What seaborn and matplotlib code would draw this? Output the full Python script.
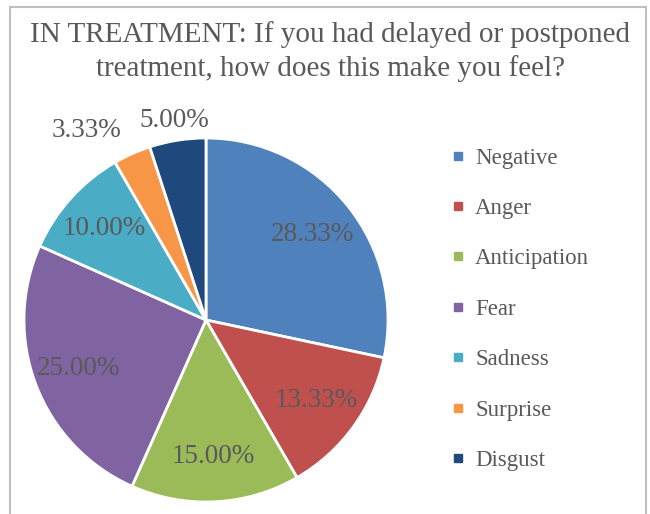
import numpy as np
import matplotlib
matplotlib.use("Agg")
import matplotlib.pyplot as plt
from matplotlib.patches import Rectangle
from matplotlib.lines import Line2D
import seaborn as sns

categories = ["Negative", "Anger", "Anticipation", "Fear", "Sadness", "Surprise", "Disgust"]
values = [28.33, 13.33, 15.00, 25.00, 10.00, 3.33, 5.00]
colors = ["#4F81BD", "#C0504D", "#9BBB59", "#8064A2", "#4BACC6", "#F79646", "#1F497D"]
title = "IN TREATMENT: If you had delayed or postponed\ntreatment, how does this make you feel?"

sns.set_theme(style="white")
plt.rcParams["font.family"] = ["Liberation Serif", "DejaVu Serif"]
text_color = "#595959"

fig = plt.figure(figsize=(6.5, 5.14), dpi=100)
fig.patch.set_facecolor("white")

# chart border
fig.add_artist(Rectangle((10 / 650, -0.05), 636 / 650, 1 - 7 / 514 + 0.05,
                         transform=fig.transFigure, fill=False,
                         edgecolor="#BFBFBF", linewidth=1.5))

ax = fig.add_axes([24 / 650, 12 / 514, 364 / 650, 364 / 514])
wedges, texts, autotexts = ax.pie(
    values, colors=sns.color_palette(colors), startangle=90, counterclock=False,
    autopct=lambda p: f"{p:.2f}%", pctdistance=0.75,
    wedgeprops=dict(edgecolor="white", linewidth=2),
    textprops=dict(color=text_color, fontsize=19.5))
ax.set_xlim(-1, 1)
ax.set_ylim(-1, 1)
ax.set_aspect("equal")

# move small slices' labels outside
for w, t, v in zip(wedges, autotexts, values):
    if v < 6:
        ang = np.deg2rad((w.theta1 + w.theta2) / 2)
        if v < 4:
            r = 1.14
            t.set_ha("right")
        else:
            r = 1.11
        t.set_position((r * np.cos(ang), r * np.sin(ang)))

fig.text(0.508, 0.96, title, ha="center", va="top", fontsize=21,
         color=text_color, linespacing=1.35)

handles = [Line2D([], [], marker="s", linestyle="none", markersize=6,
                  markerfacecolor=c, markeredgecolor=c) for c in colors]
leg = fig.legend(handles, categories, loc="upper left",
                 bbox_to_anchor=(427 / 650, 1 - 127 / 514), frameon=False,
                 fontsize=16.5, labelspacing=1.28, handletextpad=0.3,
                 handlelength=0.9, labelcolor=text_color)

fig.savefig("out.png", dpi=100, facecolor="white")
